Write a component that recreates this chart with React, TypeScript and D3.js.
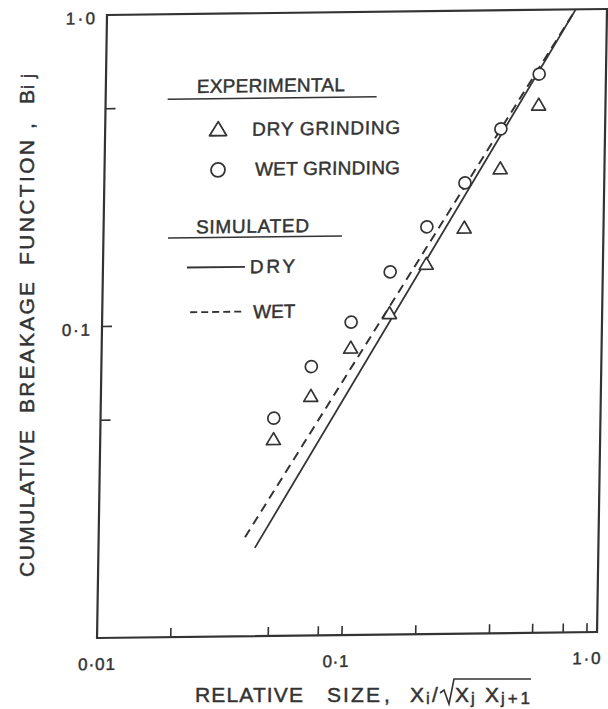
import React from "react";
import * as d3 from "d3";

// Relative particle size x_i / sqrt(x_j x_j+1) of each size interval
const relativeSize = [0.051, 0.072, 0.104, 0.149, 0.209, 0.297, 0.413, 0.587];
// Experimental cumulative breakage function B_ij
const dryGrinding = [0.043, 0.059, 0.084, 0.108, 0.155, 0.202, 0.312, 0.498];
const wetGrinding = [0.05, 0.073, 0.101, 0.146, 0.203, 0.28, 0.416, 0.622];

// Simulated breakage functions: end points of each straight line on log-log axes
const simulatedDrySize = [0.0435, 0.82];
const simulatedDryB = [0.0192, 1.0];
const simulatedWetSize = [0.0396, 0.82];
const simulatedWetB = [0.0208, 1.0];

// Axis ticks and their labels
const xTickValues = [0.02, 0.05, 0.08, 0.1, 0.2, 0.4, 0.6, 0.8, 1.0];
const yTickValues = [0.5, 0.1, 0.05];
const xLabelValues = [0.01, 0.1, 1.0];
const xLabelTexts = ["0·01", "0·1", "1·0"];
const yLabelValues = [1.0, 0.1];
const yLabelTexts = ["1·0", "0·1"];

const W = 608;
const H = 709;
const frame = { left: 107, right: 607, top: 15, bottom: 638 };
const ink = "#333";
const font = "'Liberation Sans', Arial, sans-serif";
// the drawing sheet sits slightly sheared
const sheet = "matrix(1,-0.012,-0.016,1,0.24,1.284)";
// lettering widths and horizontal nudges for the tick labels
const xLabelWidths = [37, 26, 28];
const xLabelNudge = [0, -6, 0];
const yLabelWidths = [29, 28];

function triangle(cx: number, cy: number, w: number, h: number) {
  return `M${cx},${cy - h / 2}L${cx + w / 2},${cy + h / 2}L${cx - w / 2},${cy + h / 2}Z`;
}

export default function App() {
  const x = d3.scaleLog().domain([0.01, 1.1]).range([frame.left, frame.right]);
  const y = d3.scaleLog().domain([0.01, 1]).range([frame.bottom, frame.top]);
  const line = d3
    .line<[number, number]>()
    .x((d) => x(d[0]))
    .y((d) => y(d[1]));

  const dryLine = simulatedDrySize.map((s, i) => [s, simulatedDryB[i]] as [number, number]);
  const wetLine = simulatedWetSize.map((s, i) => [s, simulatedWetB[i]] as [number, number]);

  const lettering = { fill: ink, stroke: ink, strokeWidth: 0.45 };

  return (
    <svg
      width={W}
      height={H}
      style={{ position: "absolute", left: 0, top: 0, display: "block" }}
      fontFamily={font}
    >
      <rect width={W} height={H} fill="#fff" />
      <g transform={sheet}>
        {/* plot frame */}
        <rect
          x={frame.left}
          y={frame.top}
          width={frame.right - frame.left}
          height={frame.bottom - frame.top}
          fill="none"
          stroke={ink}
          strokeWidth={2.2}
        />
        {/* ticks */}
        {xTickValues.map((v) => (
          <line key={"xt" + v} x1={x(v)} x2={x(v)} y1={frame.bottom} y2={frame.bottom - 9} stroke={ink} strokeWidth={1.6} />
        ))}
        {yTickValues.map((v) => (
          <line key={"yt" + v} x1={frame.left} x2={frame.left + 10} y1={y(v)} y2={y(v)} stroke={ink} strokeWidth={1.6} />
        ))}
        {/* tick labels */}
        <g {...lettering} fontSize={17}>
          {xLabelValues.map((v, i) => (
            <text
              key={"xl" + v}
              x={x(v) + xLabelNudge[i]}
              y={frame.bottom + 32}
              textAnchor="middle"
              textLength={xLabelWidths[i]}
              lengthAdjust="spacing"
            >
              {xLabelTexts[i]}
            </text>
          ))}
          {yLabelValues.map((v, i) => (
            <text
              key={"yl" + v}
              x={frame.left - 12}
              y={y(v) + 9}
              textAnchor="end"
              textLength={yLabelWidths[i]}
              lengthAdjust="spacing"
            >
              {yLabelTexts[i]}
            </text>
          ))}
        </g>

        {/* simulated lines */}
        <path d={line(dryLine) ?? ""} fill="none" stroke={ink} strokeWidth={1.8} />
        <path d={line(wetLine) ?? ""} fill="none" stroke={ink} strokeWidth={2} strokeDasharray="9,6" />

        {/* experimental points */}
        {relativeSize.map((s, i) => (
          <path
            key={"dry" + i}
            d={triangle(x(s), y(dryGrinding[i]), 14, 12)}
            fill="#fff"
            stroke={ink}
            strokeWidth={1.7}
            strokeLinejoin="round"
          />
        ))}
        {relativeSize.map((s, i) => (
          <circle key={"wet" + i} cx={x(s)} cy={y(wetGrinding[i])} r={6} fill="#fff" stroke={ink} strokeWidth={1.7} />
        ))}

        {/* legend */}
        <g fontSize={19}>
          <g {...lettering}>
            <text x={198} y={94} textLength={148} lengthAdjust="spacing">EXPERIMENTAL</text>
            <text x={254} y={137.5} textLength={148} lengthAdjust="spacing">DRY GRINDING</text>
            <text x={257.5} y={177.5} textLength={145} lengthAdjust="spacing">WET GRINDING</text>
            <text x={199.5} y={234.5} textLength={113} lengthAdjust="spacing">SIMULATED</text>
            <text x={254} y={275} textLength={45} lengthAdjust="spacing">DRY</text>
            <text x={258} y={320} textLength={42} lengthAdjust="spacing">WET</text>
          </g>
          <line x1={169} x2={378} y1={100} y2={100} stroke={ink} strokeWidth={1.6} />
          <path d={triangle(220, 130, 17, 14)} fill="none" stroke={ink} strokeWidth={1.8} strokeLinejoin="round" />
          <circle cx={220.5} cy={171.3} r={7} fill="none" stroke={ink} strokeWidth={1.8} />
          <line x1={171.6} x2={345.5} y1={238.8} y2={238.8} stroke={ink} strokeWidth={1.6} />
          <line x1={191} x2={249} y1={268.5} y2={268.5} stroke={ink} strokeWidth={1.8} />
          <line x1={195} x2={248} y1={313.3} y2={313.3} stroke={ink} strokeWidth={1.8} strokeDasharray="7,4" />
        </g>
      </g>

      {/* x axis title */}
      <g {...lettering} fontSize={21}>
        <text x={195} y={702} textLength={108} lengthAdjust="spacing">RELATIVE</text>
        <text x={327} y={702} textLength={53} lengthAdjust="spacing">SIZE</text>
        <text x={384} y={702}>,</text>
        <text x={410} y={702}>X</text>
        <text x={426} y={704} fontSize={17}>i</text>
        <text x={432} y={702}>/</text>
        <text x={455} y={702}>X</text>
        <text x={471} y={704} fontSize={17}>j</text>
        <text x={485} y={702}>X</text>
        <text x={501} y={704} fontSize={17} textLength={29} lengthAdjust="spacing">j+1</text>
      </g>
      <path d="M440,693L444,690L449,704L454,679L531,679" fill="none" stroke={ink} strokeWidth={1.6} />

      {/* y axis title */}
      <g transform="translate(34,0) rotate(-90)" {...lettering} fontSize={21}>
        <text x={-577} y={0} textLength={147} lengthAdjust="spacing">CUMULATIVE</text>
        <text x={-413} y={0} textLength={131} lengthAdjust="spacing">BREAKAGE</text>
        <text x={-265} y={0} textLength={125} lengthAdjust="spacing">FUNCTION</text>
        <text x={-129} y={0}>,</text>
        <text x={-104} y={0}>B</text>
        <text x={-89} y={0} fontSize={18} textLength={15} lengthAdjust="spacing">ij</text>
      </g>
    </svg>
  );
}
